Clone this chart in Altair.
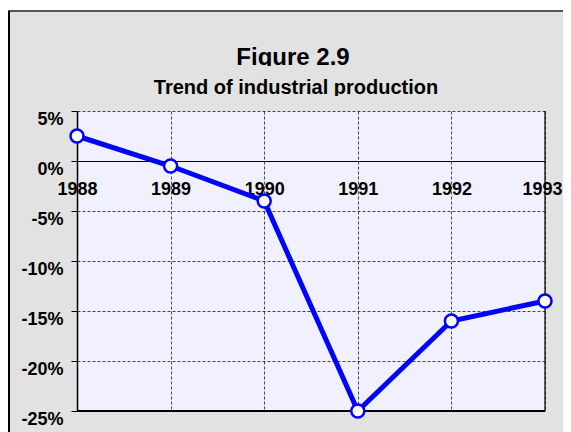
import altair as alt
import pandas as pd

years = [1988, 1989, 1990, 1991, 1992, 1993]
growth = [2.5, -0.5, -4.0, -25.0, -16.0, -14.0]
y_ticks = [5, 0, -5, -10, -15, -20, -25]
title_text = "Figure 2.9"
subtitle_text = "Trend of industrial production"

df = pd.DataFrame({"year": years, "growth": growth})

W, H = 468, 300
FONT = "Liberation Sans"
GRAY = "#E2E2E2"

xenc = alt.X(
    "year:Q",
    scale=alt.Scale(domain=[1988, 1993], nice=False, zero=False),
    axis=alt.Axis(
        values=years, format="d", title=None, orient="bottom",
        offset=-250, domainColor="black", domainWidth=1.2,
        ticks=False, labelPadding=19, labelFont=FONT, labelFontSize=18,
        labelFontWeight="bold", labelColor="black",
        labelOffset={"expr": "datum.value == 1993 ? -3 : 0"},
        grid=True, gridColor="black", gridDash=[3, 2], gridWidth=0.8,
        gridOpacity=0.9, labelOverlap=False, labelFlush=False,
    ),
)
yenc = alt.Y(
    "growth:Q",
    scale=alt.Scale(domain=[-25, 5], nice=False),
    axis=alt.Axis(
        values=y_ticks, labelExpr="datum.value + '%'", title=None,
        domainColor="black", domainWidth=1.5, tickColor="black", tickSize=6,
        labelPadding=8, labelFont=FONT, labelFontSize=18, labelFontWeight="bold",
        labelColor="black", labelOffset=8, labelFlush=False,
        grid=True, gridColor="black", gridDash=[3, 2], gridWidth=0.8,
        gridOpacity=0.9,
    ),
)

one = pd.DataFrame({"a": [0]})
top_white = alt.Chart(one).mark_rect(fill="white").encode(
    x=alt.value(-80), x2=alt.value(560), y=alt.value(-110), y2=alt.value(-101)
)
top_border = alt.Chart(one).mark_rule(color="#555555", strokeWidth=2).encode(
    x=alt.value(-69), x2=alt.value(560), y=alt.value(-100)
)
left_border = alt.Chart(one).mark_rule(color="black", strokeWidth=2).encode(
    x=alt.value(-68), y=alt.value(-100), y2=alt.value(400)
)
right_edge = alt.Chart(one).mark_rule(color="black", strokeWidth=1.2).encode(
    x=alt.value(W), y=alt.value(0), y2=alt.value(H)
)
bottom_edge = alt.Chart(one).mark_rule(color="black", strokeWidth=2).encode(
    x=alt.value(0), x2=alt.value(W), y=alt.value(H)
)

title = alt.Chart(one).mark_text(
    text=title_text, font=FONT, fontSize=24, fontWeight="bold", color="black",
    align="center", baseline="alphabetic"
).encode(x=alt.value(216), y=alt.value(-46))
subtitle = alt.Chart(one).mark_text(
    text=subtitle_text, font=FONT, fontSize=20, fontWeight="bold", color="black",
    align="center", baseline="alphabetic"
).encode(x=alt.value(219), y=alt.value(-17))
# the reference clips the descenders of the title block
clip1 = alt.Chart(one).mark_rect(fill=GRAY).encode(
    x=alt.value(120), x2=alt.value(320), y=alt.value(-45), y2=alt.value(-38)
)
clip2 = alt.Chart(one).mark_rect(fill=GRAY).encode(
    x=alt.value(50), x2=alt.value(400), y=alt.value(-15), y2=alt.value(-10)
)

line = alt.Chart(df).mark_line(color="#0000FF", strokeWidth=5).encode(x=xenc, y=yenc)
pts = alt.Chart(df).mark_point(
    filled=True, fill="white", stroke="#0000FF", strokeWidth=2.5, size=170, opacity=1
).encode(x="year:Q", y="growth:Q")

chart = alt.layer(
    top_white, top_border, left_border, title, subtitle, clip1, clip2,
    right_edge, bottom_edge, line, pts
).properties(
    width=W, height=H,
    background=GRAY,
    autosize=alt.AutoSizeParams(type="none"),
    padding={"left": 69, "top": 103, "right": 18, "bottom": 21},
).configure_view(fill="#F0F0FF", stroke=None)

chart.save("out.html", embed_options={"renderer": "svg", "actions": False})
